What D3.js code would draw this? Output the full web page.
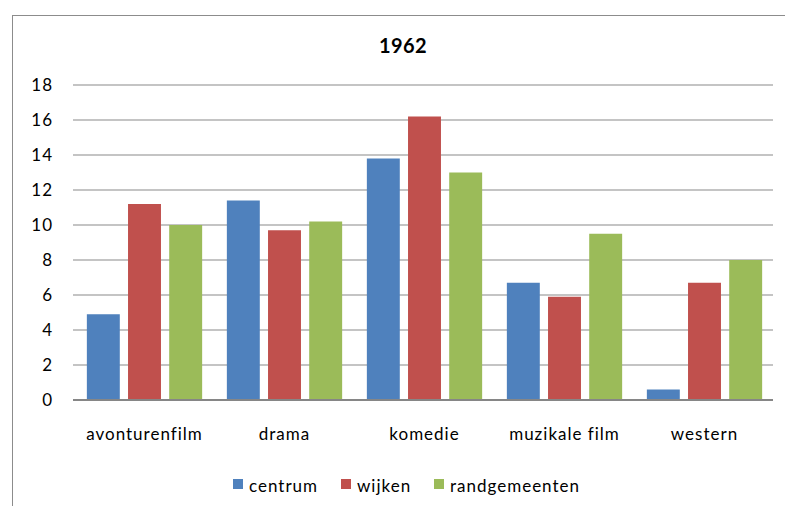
<!DOCTYPE html>
<html>
<head>
<meta charset="utf-8">
<script src="https://cdn.jsdelivr.net/npm/d3@7"></script>
<style>
  body { margin: 0; background: #fff; }
  svg { display: block; font-family: Lato, 'Open Sans', sans-serif; }
</style>
</head>
<body>
<svg width="785" height="506"></svg>
<script>
const title = '1962'
const categories = ['avonturenfilm', 'drama', 'komedie', 'muzikale film', 'western']
const seriesNames = ['centrum', 'wijken', 'randgemeenten']
const centrum = [4.9, 11.4, 13.8, 6.7, 0.6]
const wijken = [11.2, 9.7, 16.2, 5.9, 6.7]
const randgemeenten = [10.0, 10.2, 13.0, 9.5, 8.0]
const yTicks = [0, 2, 4, 6, 8, 10, 12, 14, 16, 18]
const colours = ['#4F81BD', '#C0504D', '#9BBB59']

const svg = d3.select('svg')

const margin = { left: 73, right: 12, top: 85, bottom: 106 }
const width = +svg.attr('width'),
height = +svg.attr('height')

// chart frame
svg.append('rect')
  .attr('x', 12.5)
  .attr('y', 15.5)
  .attr('width', 790)
  .attr('height', 520)
  .attr('fill', 'none')
  .attr('stroke', '#8c8c8c')

svg.append('text')
  .attr('x', 403)
  .attr('y', 53)
  .attr('text-anchor', 'middle')
  .attr('font-size', 20)
  .attr('font-weight', 'bold')
  .attr('letter-spacing', 0.4)
  .attr('fill', '#000')
  .text(title)

const x = d3.scaleBand()
  .domain(categories)
  .range([margin.left + 1.5, width - margin.right + 1.5])

const y = d3.scaleLinear()
  .domain([0, 18])
  .range([height - margin.bottom, margin.top])

// gridlines
svg.append('g')
  .selectAll('line')
  .data(yTicks.filter(d => d > 0))
  .enter()
  .append('line')
  .attr('x1', margin.left)
  .attr('x2', width - margin.right)
  .attr('y1', d => y(d))
  .attr('y2', d => y(d))
  .attr('stroke', '#8a8a8a')
  .attr('stroke-width', 1.2)

const yAxis = svg.append('g')
  .attr('transform', `translate(${margin.left},0)`)
  .call(d3.axisLeft(y).tickValues(yTicks).tickSize(0).tickPadding(20))
yAxis.select('.domain').remove()
yAxis.selectAll('text')
  .attr('font-size', 17)
  .attr('letter-spacing', 1)
  .attr('font-family', 'Lato, sans-serif')
  .attr('fill', '#000')

// bars: gap width 75%, overlap -25%
const bw = x.bandwidth() / 4.25
const sub = d3.scaleBand()
  .domain(seriesNames)
  .range([bw * 0.375, bw * 0.375 + bw * 3.5])
  .paddingInner(0.25 / 1.25)
  .paddingOuter(0)

const table = [centrum, wijken, randgemeenten]

seriesNames.forEach((name, si) => {
  svg.append('g')
    .selectAll('rect')
    .data(table[si])
    .enter()
    .append('rect')
    .attr('x', (d, i) => x(categories[i]) + sub(name))
    .attr('width', sub.bandwidth())
    .attr('y', d => y(d))
    .attr('height', d => y(0) - y(d))
    .attr('fill', colours[si])
})

// x axis line
svg.append('line')
  .attr('x1', margin.left)
  .attr('x2', width - margin.right)
  .attr('y1', y(0))
  .attr('y2', y(0))
  .attr('stroke', '#868686')
  .attr('stroke-width', 2.2)

const xAxis = svg.append('g')
  .attr('transform', `translate(0,${y(0)})`)
  .call(d3.axisBottom(x).tickSize(0).tickPadding(28))
xAxis.select('.domain').remove()
xAxis.selectAll('text')
  .attr('font-size', 17)
  .attr('letter-spacing', 1)
  .attr('font-family', 'Lato, sans-serif')
  .attr('fill', '#000')

// legend
const legendX = [233, 341, 434]
const legend = svg.append('g')
  .selectAll('g')
  .data(seriesNames)
  .enter()
  .append('g')
  .attr('transform', (d, i) => `translate(${legendX[i]},479)`)

legend.append('rect')
  .attr('width', 10)
  .attr('height', 10)
  .attr('fill', (d, i) => colours[i])

legend.append('text')
  .attr('x', 16)
  .attr('y', 13)
  .attr('font-size', 17)
  .attr('letter-spacing', 1)
  .attr('fill', '#000')
  .text(d => d)
</script>
</body>
</html>
